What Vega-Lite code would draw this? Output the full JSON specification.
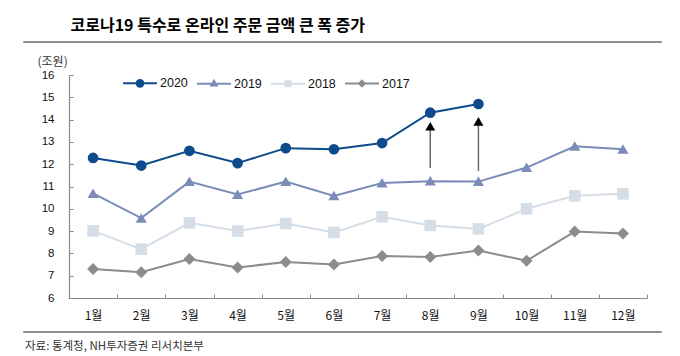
{
  "$schema": "https://vega.github.io/schema/vega-lite/v6.json",
  "background": "white",
  "padding": {"left": 22, "top": 18, "right": 10, "bottom": 4},
  "config": {"view": {"stroke": null}, "font": "Noto Sans CJK KR"},
  "title": {"text": "코로나19 특수로 온라인 주문 금액 큰 폭 증가", "anchor": "start", "dx": 48, "offset": 1, "font": "Noto Sans CJK KR", "fontSize": 16, "fontWeight": "bold", "color": "#000000"},
  "datasets": {
    "series": [
      {"month": 1, "year": "2020", "value": 12.28},
      {"month": 2, "year": "2020", "value": 11.94},
      {"month": 3, "year": "2020", "value": 12.6},
      {"month": 4, "year": "2020", "value": 12.05},
      {"month": 5, "year": "2020", "value": 12.72},
      {"month": 6, "year": "2020", "value": 12.67},
      {"month": 7, "year": "2020", "value": 12.95},
      {"month": 8, "year": "2020", "value": 14.31},
      {"month": 9, "year": "2020", "value": 14.7},
      {"month": 1, "year": "2019", "value": 10.69},
      {"month": 2, "year": "2019", "value": 9.58},
      {"month": 3, "year": "2019", "value": 11.22},
      {"month": 4, "year": "2019", "value": 10.64},
      {"month": 5, "year": "2019", "value": 11.22},
      {"month": 6, "year": "2019", "value": 10.58},
      {"month": 7, "year": "2019", "value": 11.16},
      {"month": 8, "year": "2019", "value": 11.24},
      {"month": 9, "year": "2019", "value": 11.22},
      {"month": 10, "year": "2019", "value": 11.85},
      {"month": 11, "year": "2019", "value": 12.8},
      {"month": 12, "year": "2019", "value": 12.67},
      {"month": 1, "year": "2018", "value": 9.01},
      {"month": 2, "year": "2018", "value": 8.19},
      {"month": 3, "year": "2018", "value": 9.37},
      {"month": 4, "year": "2018", "value": 9.0},
      {"month": 5, "year": "2018", "value": 9.34},
      {"month": 6, "year": "2018", "value": 8.94},
      {"month": 7, "year": "2018", "value": 9.64},
      {"month": 8, "year": "2018", "value": 9.25},
      {"month": 9, "year": "2018", "value": 9.1},
      {"month": 10, "year": "2018", "value": 10.0},
      {"month": 11, "year": "2018", "value": 10.58},
      {"month": 12, "year": "2018", "value": 10.67},
      {"month": 1, "year": "2017", "value": 7.3},
      {"month": 2, "year": "2017", "value": 7.16},
      {"month": 3, "year": "2017", "value": 7.75},
      {"month": 4, "year": "2017", "value": 7.37},
      {"month": 5, "year": "2017", "value": 7.61},
      {"month": 6, "year": "2017", "value": 7.5},
      {"month": 7, "year": "2017", "value": 7.88},
      {"month": 8, "year": "2017", "value": 7.84},
      {"month": 9, "year": "2017", "value": 8.13},
      {"month": 10, "year": "2017", "value": 7.67},
      {"month": 11, "year": "2017", "value": 8.98},
      {"month": 12, "year": "2017", "value": 8.89}
    ],
    "arrows": [
      {"month": 8, "start": 11.83, "value": 13.7},
      {"month": 9, "start": 11.69, "value": 13.92}
    ]
  },
  "spacing": 8,
  "resolve": {"scale": {"color": "independent"}, "legend": {"color": "independent"}},
  "vconcat": [
    {
      "width": 638,
      "height": 1,
      "data": {"values": [{}]},
      "mark": {"type": "text", "text": ""},
      "encoding": {},
      "view": {"stroke": "#8f8f8f", "strokeWidth": 1}
    },
    {
      "spacing": 4,
      "resolve": {"scale": {"color": "independent"}, "legend": {"color": "independent"}},
      "vconcat": [
        {
          "width": 638,
          "height": 223,
          "encoding": {
            "x": {
              "field": "month", "type": "quantitative", "title": null,
              "scale": {"domain": [0.5, 12.5], "range": [46, 624], "nice": false, "zero": false},
              "axis": {
                "values": [0.5, 1.5, 2.5, 3.5, 4.5, 5.5, 6.5, 7.5, 8.5, 9.5, 10.5, 11.5, 12.5],
                "grid": false, "ticks": true, "tickSize": -4, "tickColor": "#898989", "domainColor": "#898989", "domainWidth": 1.2, "tickWidth": 1,
                "labelExpr": "datum.value < 12 ? (datum.value + 0.5) + '월' : ''",
                "labelOffset": 24, "labelPadding": 16, "labelAngle": 0, "labelAlign": "center", "labelBaseline": "top",
                "labelFlush": false, "labelOverlap": false,
                "labelFont": "Liberation Sans Narrow, Noto Sans CJK KR", "labelFontSize": 12, "labelColor": "#111111"
              }
            },
            "y": {
              "field": "value", "type": "quantitative", "title": "(조원)",
              "scale": {"domain": [6, 16], "nice": false, "zero": false},
              "axis": {
                "offset": -46,
                "values": [6, 7, 8, 9, 10, 11, 12, 13, 14, 15, 16],
                "grid": false, "ticks": true, "tickSize": -4, "tickColor": "#898989", "domainColor": "#898989", "domainWidth": 1.2, "tickWidth": 1,
                "labelOverlap": false, "labelFlush": false,
                "labelPadding": 19, "labelFont": "Liberation Sans Narrow, Liberation Sans", "labelFontSize": 11.5, "labelColor": "#111111",
                "titleAngle": 0, "titleX": -32, "titleY": -14, "titleAlign": "left", "titleBaseline": "middle",
                "titleFont": "Noto Sans CJK KR", "titleFontSize": 12, "titleFontWeight": "normal", "titleColor": "#333333"
              }
            }
          },
          "layer": [
            {
              "data": {"name": "series"},
              "mark": {"type": "line", "strokeWidth": 2},
              "encoding": {
                "color": {
                  "field": "year", "type": "nominal",
                  "scale": {"domain": ["2020", "2019", "2018", "2017"], "range": ["#0d4b8c", "#7b8cb8", "#d5dde6", "#8c8c8c"]},
                  "legend": {
                    "orient": "none", "legendX": 99, "legendY": -10, "direction": "horizontal", "columns": 4,
                    "title": null, "padding": 0, "symbolSize": 1156, "symbolStrokeWidth": 2, "labelOffset": 2, "columnPadding": 5,
                    "labelFont": "Liberation Sans Narrow, Liberation Sans", "labelFontSize": 12.5, "labelColor": "#111111",
                    "encode": {
                      "symbols": {
                        "update": {
                          "shape": {"signal": "datum.value === '2020' ? 'M-1,0H1M0.2,0C0.2,0.11,0.11,0.2,0,0.2C-0.11,0.2,-0.2,0.11,-0.2,0C-0.2,-0.11,-0.11,-0.2,0,-0.2C0.11,-0.2,0.2,-0.11,0.2,0Z' : datum.value === '2019' ? 'M-1,0H1M0,-0.17L0.16,0.11L-0.16,0.11Z' : datum.value === '2018' ? 'M-1,0H1M-0.15,-0.15H0.15V0.15H-0.15Z' : 'M-1,0H1M0,-0.17L0.17,0L0,0.17L-0.17,0Z'"},
                          "fill": {"scale": "color", "field": "value"},
                          "stroke": {"scale": "color", "field": "value"},
                          "strokeWidth": {"value": 2},
                          "opacity": {"value": 1}
                        }
                      }
                    }
                  }
                }
              }
            },
            {
              "data": {"name": "series"},
              "mark": {"type": "point", "filled": true, "opacity": 1, "strokeWidth": 0},
              "encoding": {
                "color": {"field": "year", "type": "nominal", "legend": null},
                "shape": {
                  "field": "year", "type": "nominal", "legend": null,
                  "scale": {"domain": ["2020", "2019", "2018", "2017"], "range": ["circle", "M0,-0.9L1,0.8L-1,0.8Z", "square", "diamond"]}
                },
                "size": {
                  "field": "year", "type": "ordinal", "legend": null,
                  "scale": {"domain": ["2020", "2019", "2018", "2017"], "range": [115, 144, 110, 100]}
                }
              }
            },
            {
              "data": {"name": "arrows"},
              "mark": {"type": "rule", "color": "#6b6b6b", "strokeWidth": 1.5},
              "encoding": {
                "y2": {"field": "start"}
              }
            },
            {
              "data": {"name": "arrows"},
              "mark": {"type": "point", "shape": "triangle-up", "filled": true, "color": "#000000", "size": 100, "opacity": 1},
              "encoding": {}
            }
          ]
        },
        {
          "width": 638,
          "height": 1,
          "data": {"values": [{}]},
          "mark": {"type": "text", "text": ""},
          "encoding": {},
          "view": {"stroke": "#8f8f8f", "strokeWidth": 1},
          "title": {"text": "자료: 통계청, NH투자증권 리서치본부", "orient": "bottom", "anchor": "start", "baseline": "top", "dx": 2, "offset": 4, "font": "Noto Sans CJK KR", "fontSize": 11.5, "fontWeight": "normal", "color": "#333333"}
        }
      ]
    }
  ]
}
